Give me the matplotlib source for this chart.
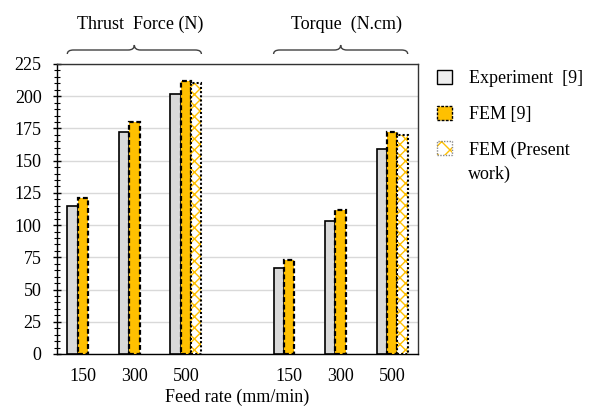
import numpy as np
import matplotlib.pyplot as plt
from matplotlib.path import Path
from matplotlib.patches import PathPatch, Patch
from matplotlib.transforms import blended_transform_factory
from matplotlib.ticker import MultipleLocator

plt.rcParams['font.family'] = ['Liberation Serif', 'DejaVu Serif']
plt.rcParams['hatch.linewidth'] = 1.0

# datos
feed = ['150', '300', '500', '150', '300', '500']
pos = np.array([0, 1, 2, 4, 5, 6])          # hueco en 3 entre grupos
experiment = [115, 172, 202, 67, 103, 159]
fem = [121, 180, 212, 73, 112, 172]
present = [np.nan, np.nan, 210, np.nan, np.nan, 170]
groups = ['Thrust  Force (N)', 'Torque  (N.cm)']
group_span = [(0, 2), (4, 6)]

gris = '#d9d9d9'
amarillo = '#ffc000'
w = 0.2
fs = 13

fig = plt.figure(figsize=(5.91, 4.12), dpi=100)
ax = fig.add_axes([57/591, 1-354/412, (418-57)/591, (354-64)/412])

ax.bar(pos - w, experiment, w, color=gris, edgecolor='black', linewidth=1.2, zorder=3)
ax.bar(pos, fem, w, color=amarillo, edgecolor='black', linewidth=1.6,
       linestyle=(0, (2.2, 1.2)), zorder=3)
ax.bar(pos + w, present, w, color='white', edgecolor=amarillo, hatch='xxx',
       linewidth=0, zorder=3)
ax.bar(pos + w, present, w, fill=False, edgecolor='black', linewidth=1.5,
       linestyle=(0, (1, 1)), zorder=4)

ax.set_xlim(-0.5, 6.5)
ax.set_ylim(0, 225)
ax.yaxis.set_major_locator(MultipleLocator(25))
ax.yaxis.set_minor_locator(MultipleLocator(5))
ax.tick_params(axis='y', which='major', direction='inout', length=6, width=1, pad=8, labelsize=fs)
ax.tick_params(axis='y', which='minor', direction='inout', length=4, width=0.8)
ax.set_xticks(pos, feed)
ax.tick_params(axis='x', length=0, pad=10, labelsize=fs)
ax.grid(axis='y', color='#d9d9d9', linewidth=1, zorder=0)
ax.set_axisbelow(True)
for s in ax.spines.values():
    s.set_color('#333333')
    s.set_linewidth(1)
ax.spines['left'].set_color('black')
ax.spines['bottom'].set_color('black')
ax.set_xlabel('Feed rate (mm/min)', fontsize=fs, labelpad=3)

# llaves de los grupos
tr = blended_transform_factory(ax.transData, fig.transFigure)
y_line, y_end, y_peak = 1-50/412, 1-54/412, 1-45/412
d = 0.12
for (a, b), nombre in zip(group_span, groups):
    x0, x1 = a - 1.5*w, b + 1.5*w
    xm = (x0 + x1) / 2
    verts = [(x0, y_end), (x0, y_line), (x0+d, y_line),
             (xm-d, y_line),
             (xm, y_line), (xm, y_peak),
             (xm, y_line), (xm+d, y_line),
             (x1-d, y_line),
             (x1, y_line), (x1, y_end)]
    codes = [Path.MOVETO, Path.CURVE3, Path.CURVE3,
             Path.LINETO,
             Path.CURVE3, Path.CURVE3,
             Path.CURVE3, Path.CURVE3,
             Path.LINETO,
             Path.CURVE3, Path.CURVE3]
    ax.add_patch(PathPatch(Path(verts, codes), fill=False, edgecolor='#404040',
                           linewidth=1, transform=tr, clip_on=False))
    fig.text(xm + 0.12, 1-24/412, nombre, transform=tr, ha='center', va='center', fontsize=fs)

h1 = Patch(facecolor='#eeeeee', edgecolor='black', linewidth=1)
h2 = Patch(facecolor=amarillo, edgecolor='black', linewidth=1, linestyle=(0, (2, 1)))
h3a = Patch(facecolor='white', edgecolor=amarillo, hatch='xx', linewidth=0)
h3b = Patch(fill=False, edgecolor='#888888', linewidth=1, linestyle=(0, (1, 1)))
fig.legend([h1, h2, (h3a, h3b)], ['Experiment  [9]', 'FEM [9]', 'FEM (Present'],
           loc='upper left', bbox_to_anchor=(437/591, 1-70/412), frameon=False,
           fontsize=fs, handlelength=0.85, handleheight=0.85, handletextpad=0.9,
           labelspacing=1.0, borderpad=0, borderaxespad=0)
fig.text(468/591, 1-174/412, 'work)', ha='left', va='center', fontsize=fs)

fig.savefig('out.png', dpi=100)
